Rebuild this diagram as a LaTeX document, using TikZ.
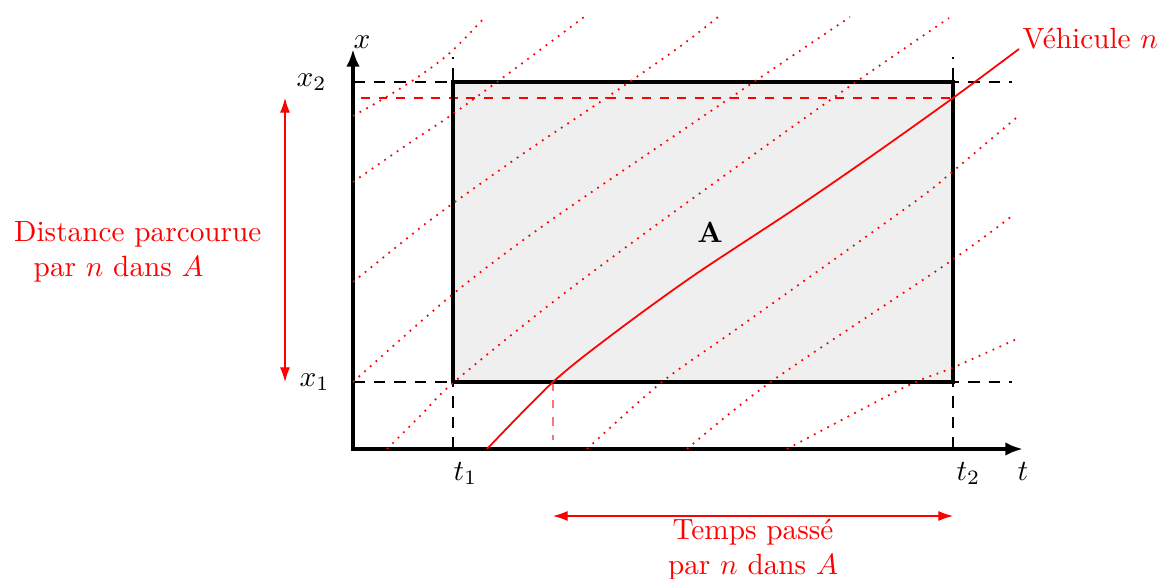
\documentclass[tikz,border=0pt]{standalone}
\usepackage{tikz}
\usepackage{xcolor}
\usetikzlibrary{arrows.meta,positioning,calc}
\definecolor{zoneGray}{HTML}{EFEFEF}

\begin{document}
\begin{tikzpicture}[x=1.2cm,y=1.2cm,
  axe/.style={line width=1.6pt,-{Latex[length=6pt,width=4.6pt]}},
  guide/.style={dash pattern=on 4pt off 3pt,line width=0.6pt},
  other/.style={red,dotted,line width=0.6pt},
  measure/.style={red,line width=0.4pt,{Latex[length=5pt,width=3.4pt]}-{Latex[length=5pt,width=3.4pt]}}]
  \useasboundingbox (-3.53,-1.29) rectangle (8.04,4.49);

  % reperes
  \coordinate (o) at (0,0);
  \coordinate (tend) at (6.7,0);
  \coordinate (xend) at (0,4.0);
  \coordinate (t1) at (1,0);
  \coordinate (t2) at (6,0);
  \coordinate (x1) at (0,0.67);
  \coordinate (x2) at (0,3.67);
  \coordinate (c11) at (1,0.67);
  \coordinate (c22) at (6,3.67);
  \coordinate (enter) at (2,0.67);
  \coordinate (exit) at (6,3.51);

  % zone A
  \fill[zoneGray] (c11) rectangle (c22);

  % guides
  \draw[guide] (x1) -- (6.59,0.67);
  \draw[guide] (x2) -- (6.59,3.67);
  \draw[guide] (t1) -- (1,3.92);
  \draw[guide] (t2) -- (6,3.92);
  \draw[red,dashed,line width=0.5pt] (0.08,3.51) -- (exit);
  \draw[red!55,dashed,line width=0.6pt] (enter) -- (2,0.09);

  \draw[line width=1.4pt] (c11) rectangle (c22);
  \node at (3.57,2.17) (zone) {\textbf{A}};

  % axes
  \draw[axe] (-0.02,0) -- (tend);
  \draw[axe] (0,-0.02) -- (xend);
  \node[anchor=south west,inner sep=0pt] (xlab) at (xend) {$x$};
  \node[below=1pt] (tlab) at (tend) {$t$};
  \node[anchor=north west,inner sep=0pt,yshift=-4.4pt] (t1lab) at (t1) {$t_1$};
  \node[anchor=north west,inner sep=0pt,yshift=-4.4pt,xshift=1pt] (t2lab) at (t2) {$t_2$};
  \node[left=4.5pt] (x1lab) at (x1) {$x_1$};
  \node[left=5.5pt] (x2lab) at (x2) {$x_2$};

  % autres vehicules
  \draw[other] plot[smooth] coordinates {(0,3.33) (0.30,3.50) (0.65,3.72) (0.98,3.97) (1.33,4.33)};
  \draw[other] plot[smooth] coordinates {(0,2.67) (0.55,3.05) (0.97,3.33) (1.44,3.67) (1.91,4.02) (2.31,4.32)};
  \draw[other] plot[smooth] coordinates {(0,1.67) (0.72,2.25) (0.99,2.45) (1.74,2.98) (2.50,3.49) (3.25,4.01) (3.65,4.32)};
  \draw[other] plot[smooth] coordinates {(0,0.67) (1.0,1.55) (1.94,2.26) (3.52,3.34) (4.97,4.32)};
  \draw[other] plot[smooth] coordinates {(0.34,0) (0.68,0.34) (1.01,0.67) (2.0,1.47) (3.10,2.29) (4.80,3.51) (5.96,4.31)};
  \draw[other] plot[smooth] coordinates {(2.34,0) (3.09,0.67) (3.85,1.21) (5.60,2.46) (5.99,2.77) (6.63,3.31)};
  \draw[other] plot[smooth] coordinates {(3.34,0) (4.19,0.68) (5.92,1.84) (6.59,2.33)};
  \draw[other] plot[smooth] coordinates {(4.34,0) (5.52,0.62) (5.99,0.81) (6.66,1.11)};

  % vehicule n
  \coordinate (vstart) at (1.34,0);
  \coordinate (vend) at (6.66,4.0);
  \draw[red,line width=0.6pt] plot[smooth,tension=0.5] coordinates {(vstart) (enter) (2.6,1.15) (3.4,1.73) (4.4,2.39) (5.2,2.94) (exit) (vend)};
  \node[red,anchor=base west,inner sep=1pt] (vlab) at (vend) {Véhicule $n$};

  % mesures
  \coordinate (da) at (-0.68,0.67);
  \coordinate (db) at (-0.68,3.51);
  \draw[measure] (da) -- (db);
  \node[red,align=left,left=4.5pt,yshift=-4pt] (dlab) at ($(da)!0.5!(db)$) {Distance parcourue\\\ \ par $n$ dans $A$};
  \coordinate (ta) at (2,-0.67);
  \coordinate (tb) at (6,-0.67);
  \draw[measure] (ta) -- (tb);
  \node[red,align=center,below=-2.5pt] (tlabel) at ($(ta)!0.5!(tb)$) {Temps passé\\par $n$ dans $A$};
\end{tikzpicture}
\end{document}
